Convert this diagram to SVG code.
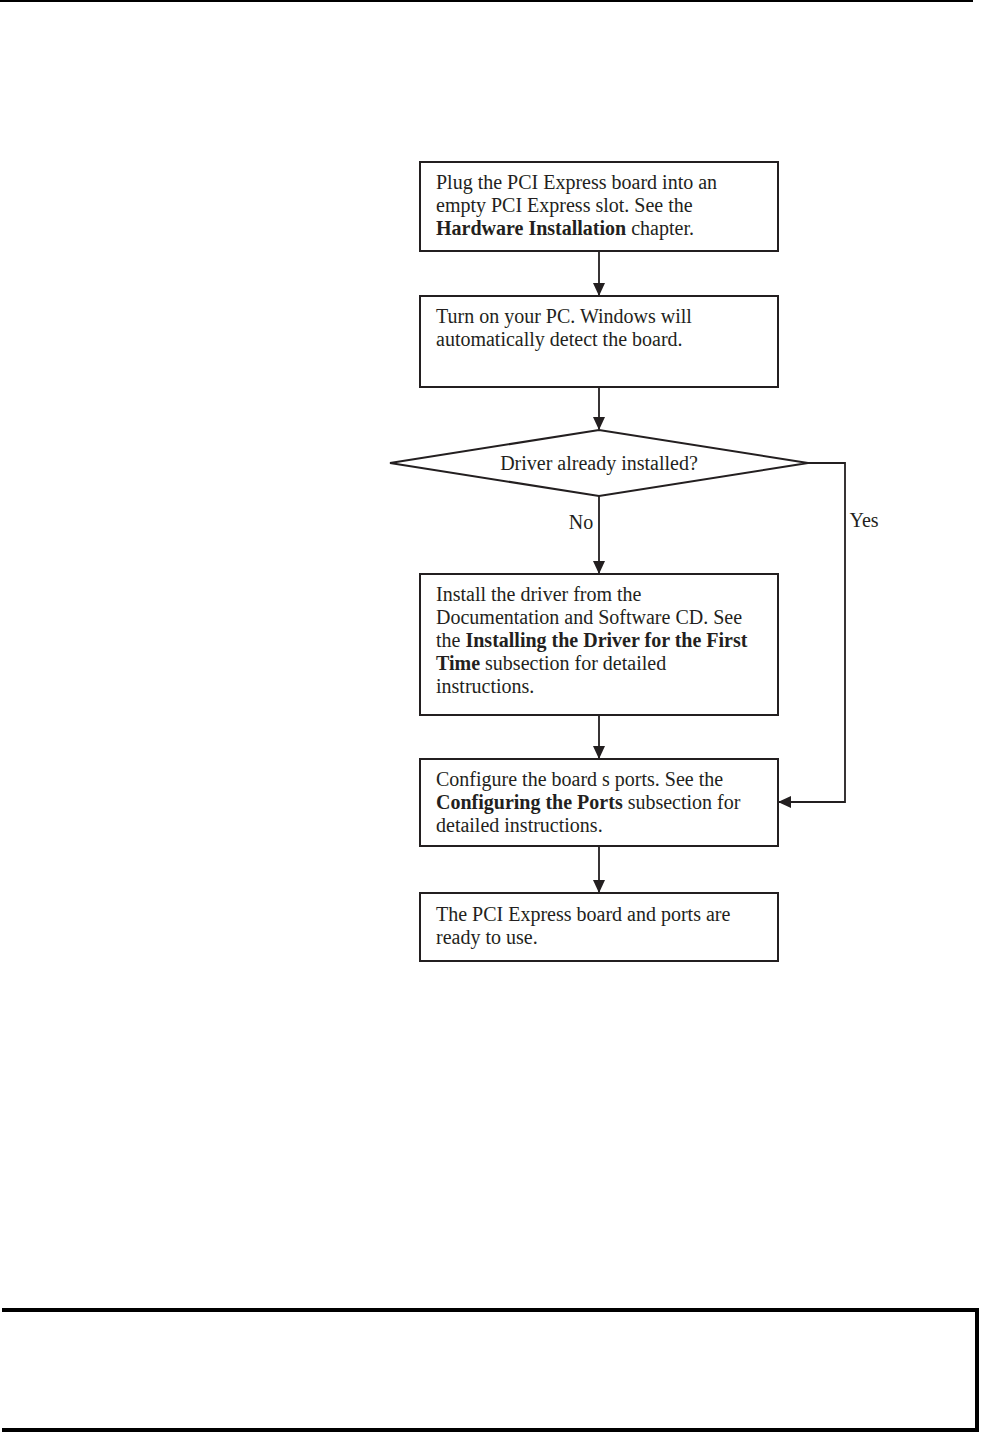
<svg xmlns="http://www.w3.org/2000/svg" width="981" height="1433" viewBox="0 0 981 1433">
<style>
.box{fill:#fff;stroke:#231f20;stroke-width:2}
.t{font-family:"Liberation Serif","Times New Roman",serif;font-size:20px;fill:#231f20}
.b{font-weight:bold}
.c{fill:none;stroke:#231f20;stroke-width:1.8}
</style>
<defs>
<marker id="ah" markerWidth="13" markerHeight="12" refX="12" refY="6" orient="auto" markerUnits="userSpaceOnUse">
<path d="M0,0 L13,6 L0,12 Z" fill="#231f20"/>
</marker>
</defs>
<rect width="981" height="1433" fill="#fff"/>
<line x1="0" y1="1" x2="973" y2="1" stroke="#000" stroke-width="2"/>
<path d="M2,1310 H977 V1430 H2" fill="none" stroke="#000" stroke-width="4"/>

<g id="connectors">
<line class="c" x1="599" y1="251" x2="599" y2="295" marker-end="url(#ah)"/>
<line class="c" x1="599" y1="387" x2="599" y2="429" marker-end="url(#ah)"/>
<line class="c" x1="599" y1="496" x2="599" y2="573" marker-end="url(#ah)"/>
<line class="c" x1="599" y1="715" x2="599" y2="758" marker-end="url(#ah)"/>
<line class="c" x1="599" y1="846" x2="599" y2="892" marker-end="url(#ah)"/>
<polyline class="c" points="808,463 845,463 845,802 779,802" marker-end="url(#ah)"/>
<text class="t" x="581" y="529" text-anchor="middle">No</text>
<text class="t" x="864" y="527" text-anchor="middle">Yes</text>
</g>

<g id="n1">
<rect class="box" x="420" y="162" width="358" height="89"/>
<text class="t" x="436" y="189">Plug the PCI Express board into an</text>
<text class="t" x="436" y="212">empty PCI Express slot. See the</text>
<text class="t" x="436" y="235"><tspan class="b">Hardware Installation</tspan> chapter.</text>
</g>

<g id="n2">
<rect class="box" x="420" y="296" width="358" height="91"/>
<text class="t" x="436" y="323">Turn on your PC. Windows will</text>
<text class="t" x="436" y="346">automatically detect the board.</text>
</g>

<g id="n3">
<polygon class="box" points="390,463 599,430 808,463 599,496"/>
<text class="t" x="599" y="470" text-anchor="middle">Driver already installed?</text>
</g>

<g id="n4">
<rect class="box" x="420" y="574" width="358" height="141"/>
<text class="t" x="436" y="601">Install the driver from the</text>
<text class="t" x="436" y="624">Documentation and Software CD. See</text>
<text class="t" x="436" y="647">the <tspan class="b">Installing the Driver for the First</tspan></text>
<text class="t" x="436" y="670"><tspan class="b">Time</tspan> subsection for detailed</text>
<text class="t" x="436" y="693">instructions.</text>
</g>

<g id="n5">
<rect class="box" x="420" y="759" width="358" height="87"/>
<text class="t" x="436" y="786">Configure the board s ports. See the</text>
<text class="t" x="436" y="809"><tspan class="b">Configuring the Ports</tspan> subsection for</text>
<text class="t" x="436" y="832">detailed instructions.</text>
</g>

<g id="n6">
<rect class="box" x="420" y="893" width="358" height="68"/>
<text class="t" x="436" y="921">The PCI Express board and ports are</text>
<text class="t" x="436" y="944">ready to use.</text>
</g>
</svg>
